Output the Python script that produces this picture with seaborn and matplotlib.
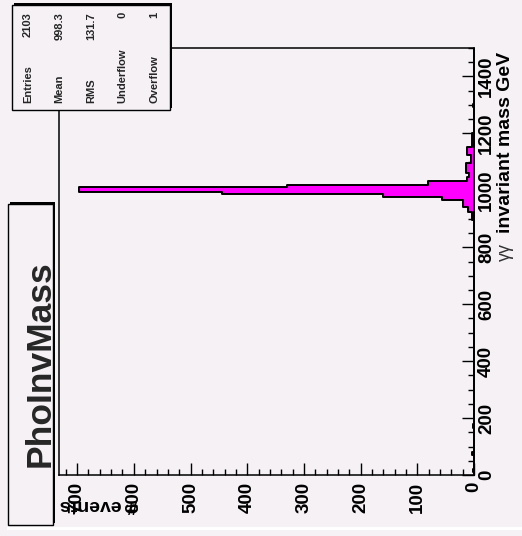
import numpy as np
import pandas as pd
import matplotlib
matplotlib.use("Agg")
import matplotlib.pyplot as plt
import seaborn as sns
from matplotlib.patches import Rectangle
from matplotlib.ticker import MultipleLocator

# ---- data ----
mass_edges = [0, 10, 20, 70, 80, 165, 180, 896, 925, 940, 966, 976, 987, 994,
              1012, 1019, 1033, 1047, 1061, 1096, 1124, 1152, 1201, 1293, 1303, 1500]
event_counts = [0, 1, 0, 4, 0, 1, 0, 4, 10, 19, 56, 160, 444, 697,
                330, 81, 12, 9, 14, 5, 12, 3, 0, 1, 0]
mass_ticks = [0, 200, 400, 600, 800, 1000, 1200, 1400]
event_ticks = [0, 100, 200, 300, 400, 500, 600, 700]
stat_names = ["Entries", "Mean", "RMS", "Underflow", "Overflow"]
stat_values = ["2103", "998.3", "131.7", "0", "1"]
title = "PhoInvMass"
mass_prefix = "γγ"
mass_label = "invariant mass GeV"
events_label = "# events"

sns.set_theme(style="white")
plt.rcParams['font.family'] = ['Liberation Sans', 'DejaVu Sans']

BG = "#f5f1f5"
W, H = 522, 536
fig = plt.figure(figsize=(W / 100, H / 100), dpi=100)
fig.patch.set_facecolor(BG)


def fx(x):
    return x / W


def fy(y):
    return 1 - y / H


ax = fig.add_axes([fx(59), fy(475), (474 - 59) / W, (475 - 48) / H])
ax.set_facecolor(BG)

centers = [(a + b) / 2 for a, b in zip(mass_edges[:-1], mass_edges[1:])]
df = pd.DataFrame({"mass": centers, "events": event_counts})
sns.histplot(data=df, y="mass", weights="events", bins=mass_edges,
             element="step", fill=True, color="#ff00ff", alpha=1,
             edgecolor="black", linewidth=1.4, ax=ax)

ax.set_xlim(732, 0)
ax.set_ylim(0, 1500)
ax.set_xlabel("")
ax.set_ylabel("")

ax.set_yticks(mass_ticks)
ax.set_yticklabels([str(t) for t in mass_ticks])
ax.set_xticks(event_ticks)
ax.set_xticklabels([str(t) for t in event_ticks])
ax.yaxis.set_minor_locator(MultipleLocator(50))
ax.xaxis.set_minor_locator(MultipleLocator(20))
ax.yaxis.tick_right()

ax.tick_params(which='major', direction='in', length=8.6, width=1.0,
               color='black', labelsize=13.5, labelcolor='black')
ax.tick_params(which='minor', direction='in', length=4.3, width=1.0, color='black')
ax.tick_params(axis='x', which='both', bottom=True, top=False, labelrotation=90, pad=5)
ax.tick_params(axis='y', which='both', right=True, left=False, labelright=True,
               labelleft=False, labelrotation=90, pad=3)
for lbl in ax.get_yticklabels():
    lbl.set_fontweight('bold')
    lbl.set_va('center')
for lbl in ax.get_xticklabels():
    lbl.set_fontweight('bold')

for s in ax.spines.values():
    s.set_visible(True)
    s.set_color('black')
    s.set_linewidth(1.1)

# axis titles
fig.text(fx(510), fy(52), mass_label, rotation=90, rotation_mode='anchor',
         ha='right', va='baseline', fontsize=14, fontweight='bold', color='black')
fig.text(fx(510), fy(243), mass_prefix, rotation=90, rotation_mode='anchor',
         ha='right', va='baseline', fontsize=13, color='#333333')
fig.text(fx(99), fy(505), events_label, rotation=180, ha='center', va='center',
         fontsize=14, fontweight='bold', color='black')

# stats box (with shadow)
sx0, sy0, sx1, sy1 = 12, 5, 170, 110
fig.add_artist(Rectangle((fx(sx0 + 2), fy(sy1 - 2)), (sx1 - sx0) / W, (sy1 - sy0) / H,
                         transform=fig.transFigure, facecolor='black', edgecolor='none', zorder=2))
fig.add_artist(Rectangle((fx(sx0), fy(sy1)), (sx1 - sx0) / W, (sy1 - sy0) / H,
                         transform=fig.transFigure, facecolor=BG, edgecolor='black',
                         linewidth=1, zorder=2.1))
for i, (nm, val) in enumerate(zip(stat_names, stat_values)):
    cx = sx0 + (sx1 - sx0) / 5 * (i + 0.5)
    fig.text(fx(cx), fy(103), nm, rotation=90, rotation_mode='anchor', ha='left',
             va='center', fontsize=8, fontweight='bold', zorder=3)
    fig.text(fx(cx), fy(12), val, rotation=90, rotation_mode='anchor', ha='right',
             va='center', fontsize=8, fontweight='bold', zorder=3)

# title box (with shadow)
tx0, ty0, tx1, ty1 = 8, 204, 53, 525
fig.add_artist(Rectangle((fx(tx0 + 2), fy(ty1 - 2)), (tx1 - tx0) / W, (ty1 - ty0) / H,
                         transform=fig.transFigure, facecolor='black', edgecolor='none', zorder=2))
fig.add_artist(Rectangle((fx(tx0), fy(ty1)), (tx1 - tx0) / W, (ty1 - ty0) / H,
                         transform=fig.transFigure, facecolor=BG, edgecolor='black',
                         linewidth=1, zorder=2.1))
fig.text(fx(50), fy(364), title, rotation=90, rotation_mode='anchor', ha='center',
         va='baseline', fontsize=25.5, fontweight='bold', zorder=3)

# thin white strip near the bottom edge of the canvas
fig.add_artist(Rectangle((fx(7), fy(530)), (W - 7) / W, 3 / H,
                         transform=fig.transFigure, facecolor='white',
                         edgecolor='none', zorder=1))

fig.savefig("out.png", dpi=100, facecolor=BG)
